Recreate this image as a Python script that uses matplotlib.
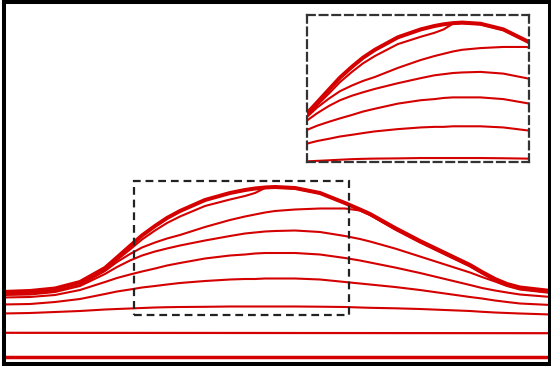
import matplotlib
matplotlib.use("Agg")
import matplotlib.pyplot as plt
from matplotlib.patches import Rectangle

# x positions (same grid for every curve)
x = [2, 30, 55, 80, 105, 117, 130, 142, 155, 167, 180, 205, 230, 245, 255, 265, 275,
     295, 320, 345, 360, 370, 395, 420, 445, 470, 482, 495, 507, 520, 551]

# outer envelope (thick) and the family of curves below it
envelope = [74, 75, 77.5, 84, 98, 108.5, 120, 130.5, 140, 148, 155, 166, 173, 176, 177.5, 178.5, 179,
            178, 173, 163, 156.5, 152, 138, 125, 113, 101, 94, 87, 82, 78.5, 75]
curve_a = [73.5, 74.5, 77, 83, 96, 106, 116.5, 126.5, 135.5, 143, 149.5, 160, 166.5, 170, 173, 178, 178.5,
           177.5, 172.5, 162.5, 156, 151.5, 137.5, 124.5, 112.5, 100.5, 93.5, 86.5, 81.5, 78, 74.5]
curve_b = [72.5, 73, 75, 81, 95, 104, 112, 118.5, 123.5, 127.5, 131, 139, 146, 149.5, 151.5, 153.5, 155,
           156.5, 157.5, 157.5, 155.5, 151, 136.5, 123.5, 111.5, 99.5, 92.5, 85.5, 80.5, 77, 73.5]
curve_c = [71, 71.5, 74, 80, 92, 99, 105.5, 110.5, 114.5, 117.5, 120.5, 125.5, 130, 132.5, 133.5, 134.5, 135,
           135.5, 134, 130, 127, 124.5, 117.5, 109.5, 101.5, 93.5, 89, 84.5, 80, 76.5, 73]
curve_d = [68.5, 69, 71, 76, 84, 88, 91.5, 94.5, 97.5, 100.5, 103, 107.5, 110.5, 111.5, 112.5, 113, 113,
           113, 111.5, 108, 105.5, 103.5, 98.5, 93, 87, 81, 78, 75.5, 73.5, 71.5, 69]
curve_e = [61.5, 62, 64, 67, 72, 74.5, 76.5, 78.5, 80, 81.5, 83, 85, 86.5, 87, 87, 87.5, 87.5,
           87.5, 86.5, 84, 82.5, 81.5, 79, 76, 72.5, 69, 67.5, 65.5, 64, 62.5, 61]
curve_f = [52.5, 53, 54, 55, 56.5, 57, 57.5, 58, 58.5, 58.8, 59, 59.2, 59.5, 59.5, 59.5, 59.5, 59.5,
           59.5, 59.3, 59, 58.5, 58.2, 57.7, 57, 56, 55, 54.2, 53.5, 53, 52.5, 51.5]

# two nearly flat lines at the bottom
flat_x = [0, 551]
curve_g = [33.2, 32.8]
curve_h = [8.7, 8.7]

# zoom box in the main panel and the view shown in the inset
box_x = (134, 349)
box_y = (51, 185)
inset_xlim = (106, 348)
inset_ylim = (56.0, 185.7)

red = "#d40000"


def draw_curves(ax):
    for c in [curve_a, curve_b, curve_c, curve_d, curve_e, curve_f]:
        ax.plot(x, c, color=red, lw=1.5, solid_joinstyle="round")
    ax.plot(x, envelope, color=red, lw=2.9, solid_joinstyle="round")
    ax.plot(flat_x, curve_g, color=red, lw=1.6)
    ax.plot(flat_x, curve_h, color=red, lw=2.5)


fig = plt.figure(figsize=(5.51, 3.66), dpi=100)
ax = fig.add_axes([4 / 551, 2 / 366, 545.5 / 551, 362 / 366])
draw_curves(ax)
ax.set_xlim(4, 549.5)
ax.set_ylim(2, 364)
ax.set_xticks([])
ax.set_yticks([])
for s in ax.spines.values():
    s.set_linewidth(2.9)
    s.set_color("black")

ax.add_patch(Rectangle((box_x[0], box_y[0]), box_x[1] - box_x[0], box_y[1] - box_y[0],
                       fill=False, ec="#222222", lw=1.6, ls=(0, (3.5, 2.2)), zorder=3))

# inset with dashed frame
ins = fig.add_axes([307 / 551, (366 - 162) / 366, 222 / 551, 147 / 366])
draw_curves(ins)
ins.set_xlim(*inset_xlim)
ins.set_ylim(*inset_ylim)
ins.set_xticks([])
ins.set_yticks([])
for s in ins.spines.values():
    s.set_linewidth(1.6)
    s.set_color("#333333")
    s.set_linestyle((0, (3.5, 2.2)))

fig.savefig("out.png", dpi=100)
